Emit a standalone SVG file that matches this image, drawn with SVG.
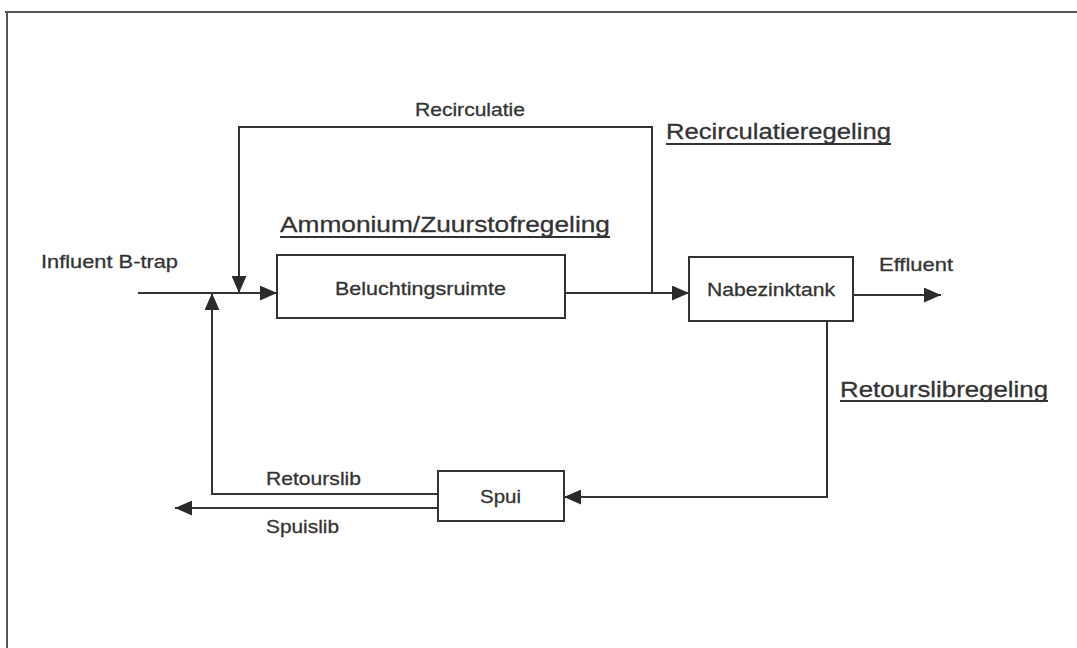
<svg xmlns="http://www.w3.org/2000/svg" width="1077" height="648" viewBox="0 0 1077 648">
<defs>
<marker id="ah" viewBox="0 0 16 14" refX="16" refY="7" markerWidth="17" markerHeight="15" markerUnits="userSpaceOnUse" orient="auto">
<path d="M0,0 L16,7 L0,14 Z" fill="#2a2a2a"/>
</marker>
</defs>
<style>
.frame{stroke:#555;stroke-width:2;fill:none}
.ln{stroke:#333;stroke-width:2;fill:none}
.box{stroke:#333;stroke-width:2;fill:#fff}
.t{font-family:"Liberation Sans",Arial,sans-serif;font-size:19px;fill:#333;stroke:#333;stroke-width:0.3}
.tb{font-family:"Liberation Sans",Arial,sans-serif;font-size:22px;fill:#333;stroke:#333;stroke-width:0.3}
.ul{stroke:#333;stroke-width:2}
</style>
<rect width="1077" height="648" fill="#fff"/>
<g id="frame">
<line class="frame" x1="5" y1="12" x2="1077" y2="12"/>
<line class="frame" x1="7" y1="12" x2="7" y2="648"/>
</g>
<g id="connectors">
<polyline class="ln" points="652,293 652,127 239,127 239,293" marker-end="url(#ah)"/>
<line class="ln" x1="138" y1="293" x2="277" y2="293" marker-end="url(#ah)"/>
<line class="ln" x1="565" y1="293" x2="689" y2="293" marker-end="url(#ah)"/>
<line class="ln" x1="853" y1="295" x2="941" y2="295" marker-end="url(#ah)"/>
<polyline class="ln" points="827,321 827,497 564,497" marker-end="url(#ah)"/>
<polyline class="ln" points="438,494 212,494 212,293" marker-end="url(#ah)"/>
<line class="ln" x1="438" y1="508" x2="175" y2="508" marker-end="url(#ah)"/>
</g>
<g id="beluchtingsruimte">
<rect class="box" x="277" y="255" width="288" height="63"/>
<text class="t" x="335" y="295" textLength="171" lengthAdjust="spacingAndGlyphs">Beluchtingsruimte</text>
</g>
<g id="nabezinktank">
<rect class="box" x="689" y="257" width="164" height="64"/>
<text class="t" x="707" y="296" textLength="128" lengthAdjust="spacingAndGlyphs">Nabezinktank</text>
</g>
<g id="spui">
<rect class="box" x="438" y="471" width="126" height="50"/>
<text class="t" x="480" y="503" textLength="41" lengthAdjust="spacingAndGlyphs">Spui</text>
</g>
<g id="labels">
<text class="t" x="415" y="116" textLength="110" lengthAdjust="spacingAndGlyphs">Recirculatie</text>
<text class="t" x="41" y="268" textLength="137" lengthAdjust="spacingAndGlyphs">Influent B-trap</text>
<text class="t" x="879" y="271" textLength="74" lengthAdjust="spacingAndGlyphs">Effluent</text>
<text class="t" x="266" y="485" textLength="95" lengthAdjust="spacingAndGlyphs">Retourslib</text>
<text class="t" x="266" y="533" textLength="73" lengthAdjust="spacingAndGlyphs">Spuislib</text>
</g>
<g id="regelingen">
<text class="tb" x="666" y="139" textLength="225" lengthAdjust="spacingAndGlyphs">Recirculatieregeling</text>
<line class="ul" x1="666" y1="144" x2="891" y2="144"/>
<text class="tb" x="280" y="232" textLength="330" lengthAdjust="spacingAndGlyphs">Ammonium/Zuurstofregeling</text>
<line class="ul" x1="280" y1="237" x2="610" y2="237"/>
<text class="tb" x="840" y="397" textLength="208" lengthAdjust="spacingAndGlyphs">Retourslibregeling</text>
<line class="ul" x1="840" y1="401" x2="1048" y2="401"/>
</g>
</svg>
